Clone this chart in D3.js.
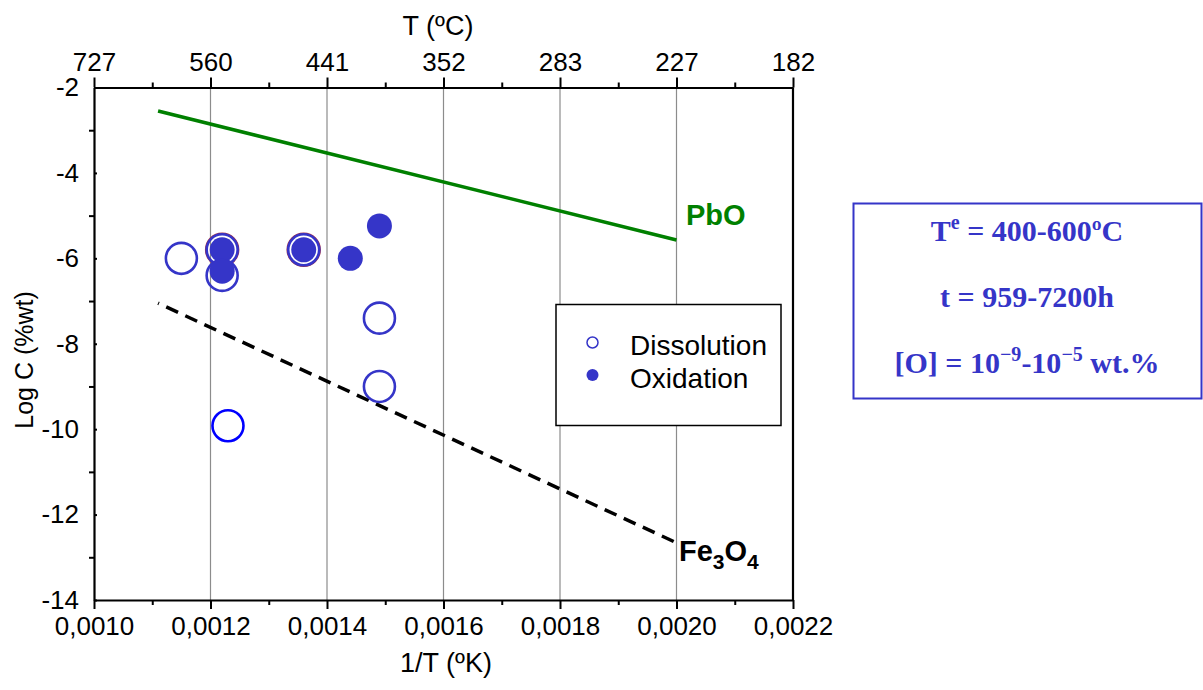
<!DOCTYPE html>
<html>
<head>
<meta charset="utf-8">
<script src="https://cdn.jsdelivr.net/npm/d3@7"></script>
<style>
  body { margin: 0; background: #fff; }
  svg { font-family: "Liberation Sans", Arial, sans-serif; }
</style>
</head>
<body>
<div id="chart"></div>
<script>
// tick values
var xTicks = [0.0010, 0.0012, 0.0014, 0.0016, 0.0018, 0.0020, 0.0022];
var xMinor = [0.0011, 0.0013, 0.0015, 0.0017, 0.0019, 0.0021];
var yTicks = [-2, -4, -6, -8, -10, -12, -14];
var yMinor = [-3, -5, -7, -9, -11, -13];

// Dissolution (open circles)
var dissolutionX = [0.00115, 0.00122, 0.00122, 0.00136, 0.00149, 0.00149];
var dissolutionY = [-6.0, -5.8, -6.4, -5.8, -7.4, -9.0];
// the single pure blue open circle
var dissolutionBX = [0.00123];
var dissolutionBY = [-9.92];
// points where a dissolution ring has a red edge
var ringX = [0.00122, 0.00136];
var ringY = [-5.8, -5.8];

// Oxidation (filled circles)
var oxidationX = [0.00122, 0.00122, 0.00136, 0.00144, 0.00149];
var oxidationY = [-5.8, -6.3, -5.8, -6.0, -5.24];

// equilibrium lines
var pboX = [0.00111, 0.0020];
var pboY = [-2.55, -5.57];
var fe3o4X = [0.00111, 0.0020];
var fe3o4Y = [-7.05, -12.66];

var infoLines = ["T|e| = 400-600ºC", "t = 959-7200h", "[O] = 10|−9|-10|−5| wt.%"];

function zip(xs, ys) {
    return xs.map(function(x, i){ return [x, ys[i]]; });
}

function drawChart() {
    var w = 1203, h = 690;
    var left = 94, right = 793, top = 87.5, bottom = 600;
    var blue = "#3535c8";

    var x = d3.scaleLinear().domain([0.0010, 0.0022]).range([left, right]);
    var y = d3.scaleLinear().domain([-2, -14]).range([top, bottom]);

    var svg = d3.select("#chart")
                .append("svg")
                .attr("width", w)
                .attr("height", h);

    // vertical grid lines
    svg.selectAll("line.grid")
        .data(xTicks.slice(1, -1))
        .enter()
        .append("line")
        .attr("class", "grid")
        .attr("x1", function(d){ return x(d); })
        .attr("x2", function(d){ return x(d); })
        .attr("y1", top)
        .attr("y2", bottom)
        .attr("stroke", "#8c8c8c")
        .attr("stroke-width", 1.2);

    var fmtBottom = function(d){ return d3.format(".4f")(d).replace(".", ","); };
    var fmtTop = function(d){ return Math.round(1 / d - 273); };
    var fmtLeft = function(d){ return String(d); };

    function styleAxis(g) {
        g.selectAll("path.domain").attr("stroke", "#000").attr("stroke-width", 2.2);
        g.selectAll(".tick line").attr("stroke", "#000").attr("stroke-width", 2);
        g.selectAll(".tick text")
            .attr("fill", "#000")
            .style("font-size", "26px")
            .style("font-family", "Liberation Sans, Arial, sans-serif");
    }

    function minor(g) {
        g.select(".domain").remove();
        g.selectAll("line").attr("stroke", "#000").attr("stroke-width", 2);
    }

    // bottom axis
    var gb = svg.append("g")
        .attr("transform", "translate(0," + bottom + ")")
        .call(d3.axisBottom(x).tickValues(xTicks).tickFormat(fmtBottom).tickSizeInner(9).tickSizeOuter(0).tickPadding(8));
    styleAxis(gb);
    svg.append("g")
        .attr("transform", "translate(0," + bottom + ")")
        .call(d3.axisBottom(x).tickValues(xMinor).tickFormat("").tickSizeInner(5).tickSizeOuter(0))
        .call(minor);

    // top axis (temperature in ºC)
    var gt = svg.append("g")
        .attr("transform", "translate(0," + top + ")")
        .call(d3.axisTop(x).tickValues(xTicks).tickFormat(fmtTop).tickSizeInner(10).tickSizeOuter(0).tickPadding(7));
    styleAxis(gt);
    svg.append("g")
        .attr("transform", "translate(0," + top + ")")
        .call(d3.axisTop(x).tickValues(xMinor).tickFormat("").tickSizeInner(5).tickSizeOuter(0))
        .call(minor);

    // left axis
    var gl = svg.append("g")
        .attr("transform", "translate(" + left + ",0)")
        .call(d3.axisLeft(y).tickValues(yTicks).tickFormat(fmtLeft).tickSizeInner(9).tickSizeOuter(0).tickPadding(6));
    styleAxis(gl);
    gl.selectAll(".tick line").attr("x2", 3);
    svg.append("g")
        .attr("transform", "translate(" + left + ",0)")
        .call(d3.axisLeft(y).tickValues(yMinor).tickFormat("").tickSizeInner(5).tickSizeOuter(0))
        .call(minor);

    // right border
    svg.append("line")
        .attr("x1", right).attr("x2", right)
        .attr("y1", top).attr("y2", bottom)
        .attr("stroke", "#000").attr("stroke-width", 2.2);

    // axis titles
    svg.append("text")
        .attr("x", 438).attr("y", 35)
        .attr("text-anchor", "middle")
        .style("font-size", "27px")
        .text("T (ºC)");
    svg.append("text")
        .attr("x", 446).attr("y", 672)
        .attr("text-anchor", "middle")
        .style("font-size", "27px")
        .text("1/T (ºK)");
    svg.append("text")
        .attr("transform", "translate(33,360) rotate(-90)")
        .attr("text-anchor", "middle")
        .style("font-size", "25px")
        .text("Log C (%wt)");

    // lines
    var line = d3.line()
                .x(function(d){ return x(d[0]); })
                .y(function(d){ return y(d[1]); });

    svg.append("path")
        .datum(zip(pboX, pboY))
        .attr("d", line)
        .attr("fill", "none")
        .attr("stroke", "#008000")
        .attr("stroke-width", 3.5);

    svg.append("path")
        .datum(zip(fe3o4X, fe3o4Y))
        .attr("d", line)
        .attr("fill", "none")
        .attr("stroke", "#000")
        .attr("stroke-width", 3.5)
        .attr("stroke-dasharray", "13,8")
        .attr("stroke-dashoffset", 12);

    svg.append("text")
        .attr("x", 686).attr("y", 225)
        .attr("fill", "#008000")
        .style("font-size", "29px")
        .style("font-weight", "bold")
        .text("PbO");

    var fe = svg.append("text")
        .attr("x", 679).attr("y", 561)
        .attr("fill", "#000")
        .style("font-size", "29px")
        .style("font-weight", "bold");
    fe.append("tspan").text("Fe");
    fe.append("tspan").attr("dy", 8).style("font-size", "21px").text("3");
    fe.append("tspan").attr("dy", -8).text("O");
    fe.append("tspan").attr("dy", 8).style("font-size", "21px").text("4");

    // red edged rings
    svg.selectAll("circle.ring")
        .data(zip(ringX, ringY))
        .enter()
        .append("circle")
        .attr("class", "ring")
        .attr("cx", function(d){ return x(d[0]); })
        .attr("cy", function(d){ return y(d[1]); })
        .attr("r", 16.5)
        .attr("fill", "none")
        .attr("stroke", "#a0304a")
        .attr("stroke-width", 1.5);

    // dissolution
    svg.selectAll("circle.diss")
        .data(zip(dissolutionX, dissolutionY))
        .enter()
        .append("circle")
        .attr("class", "diss")
        .attr("cx", function(d){ return x(d[0]); })
        .attr("cy", function(d){ return y(d[1]); })
        .attr("r", 15.5)
        .attr("fill", "none")
        .attr("stroke", blue)
        .attr("stroke-width", 2.6);

    svg.selectAll("circle.dissB")
        .data(zip(dissolutionBX, dissolutionBY))
        .enter()
        .append("circle")
        .attr("class", "dissB")
        .attr("cx", function(d){ return x(d[0]); })
        .attr("cy", function(d){ return y(d[1]); })
        .attr("r", 15.5)
        .attr("fill", "none")
        .attr("stroke", "#0000ff")
        .attr("stroke-width", 2.6);

    // oxidation
    svg.selectAll("circle.oxi")
        .data(zip(oxidationX, oxidationY))
        .enter()
        .append("circle")
        .attr("class", "oxi")
        .attr("cx", function(d){ return x(d[0]); })
        .attr("cy", function(d){ return y(d[1]); })
        .attr("r", 12.5)
        .attr("fill", blue);

    // legend
    var leg = svg.append("g");
    leg.append("rect")
        .attr("x", 556).attr("y", 304.5)
        .attr("width", 225).attr("height", 121)
        .attr("fill", "#fff")
        .attr("stroke", "#000")
        .attr("stroke-width", 1.5);
    leg.append("circle")
        .attr("cx", 592.5).attr("cy", 342.5).attr("r", 5.5)
        .attr("fill", "#fff").attr("stroke", blue).attr("stroke-width", 1.5);
    leg.append("circle")
        .attr("cx", 592.5).attr("cy", 375).attr("r", 6)
        .attr("fill", blue);
    leg.append("text")
        .attr("x", 630).attr("y", 355)
        .style("font-size", "28px")
        .text("Dissolution");
    leg.append("text")
        .attr("x", 630).attr("y", 388)
        .style("font-size", "28px")
        .text("Oxidation");

    // info box
    svg.append("rect")
        .attr("x", 853.5).attr("y", 203.5)
        .attr("width", 348).attr("height", 195)
        .attr("fill", "#fff")
        .attr("stroke", blue)
        .attr("stroke-width", 2);

    var info = svg.selectAll("text.info")
        .data(infoLines)
        .enter()
        .append("text")
        .attr("class", "info")
        .attr("x", 1027)
        .attr("y", function(d, i){ return 241 + i * 66; })
        .attr("text-anchor", "middle")
        .attr("fill", blue)
        .style("font-family", "Liberation Serif, Times New Roman, serif")
        .style("font-weight", "bold")
        .style("font-size", "30px");

    info.each(function(d){
        var t = d3.select(this);
        d.split("|").forEach(function(part, k){
            if (part === "") return;
            var sup = k % 2 === 1;
            t.append("tspan")
                .attr("dy", sup ? -12 : (k > 0 ? 12 : 0))
                .style("font-size", sup ? "20px" : "30px")
                .text(part);
        });
    });
}

function init(){
    drawChart();
}
window.onload = init;
</script>
</body>
</html>
